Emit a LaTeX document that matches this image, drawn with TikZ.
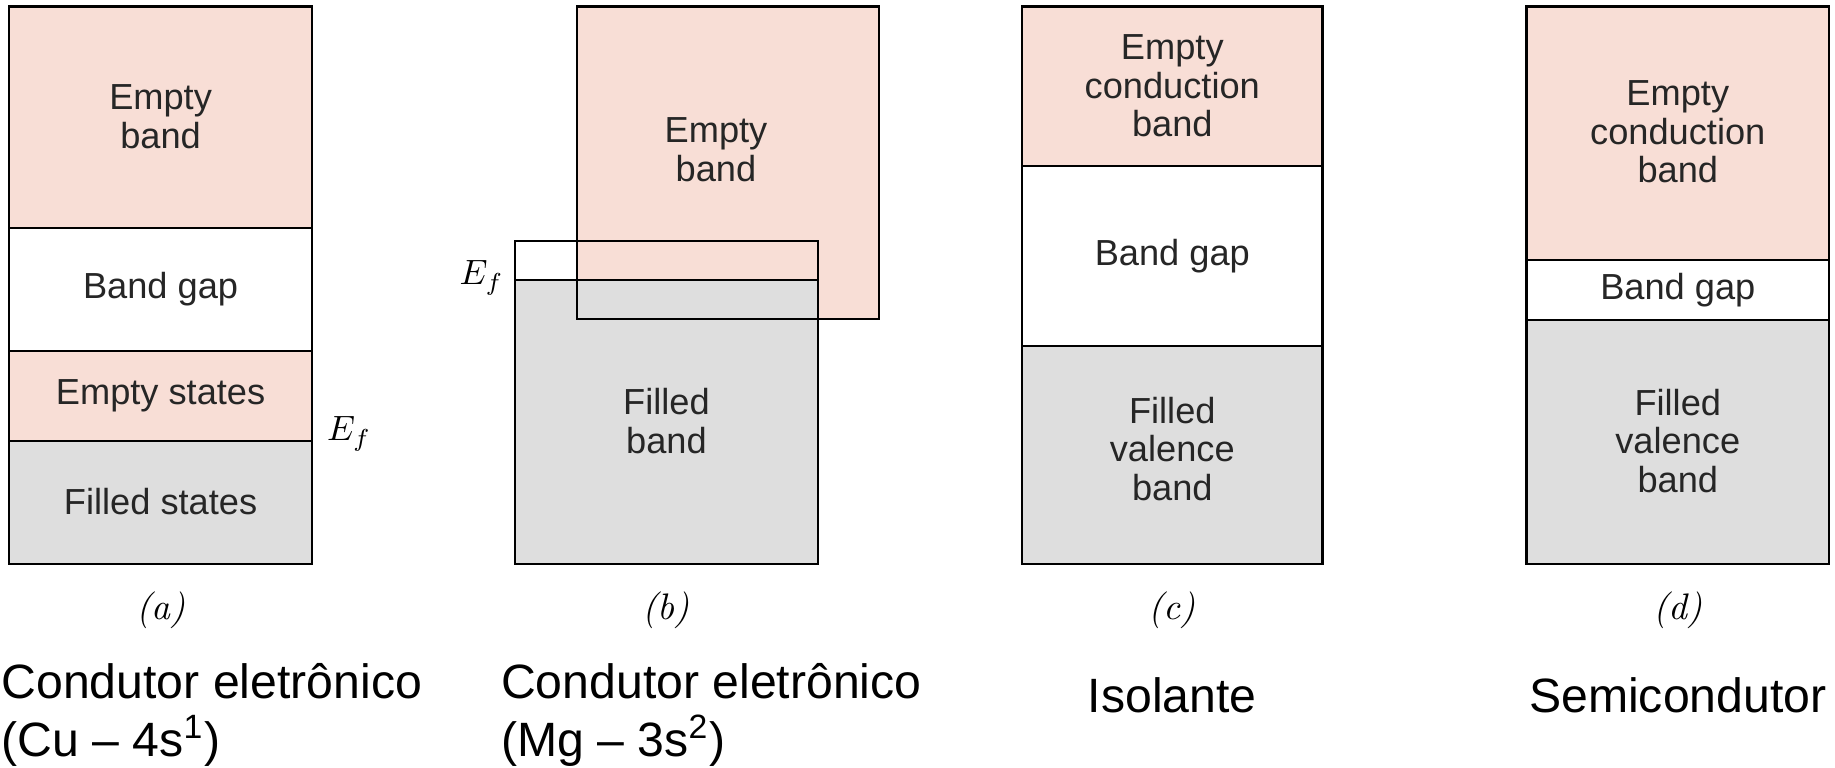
\documentclass[tikz,border=0pt]{standalone}
\usepackage{fontspec}
\newfontfamily\bandsans{Liberation Sans}
\definecolor{emptycol}{RGB}{248,222,214}
\definecolor{filledcol}{RGB}{222,222,222}

\begin{document}
\begin{tikzpicture}[x=0.01cm, y=-0.01cm, line width=0.65pt,
    every node/.style={font=\bandsans\fontsize{10.3}{11}\selectfont, align=center, text=black!85},
    emptyband/.style={fill=emptycol, draw},
    filledband/.style={fill=filledcol, draw},
    gapband/.style={fill=white, draw},
    fermi/.style={font=\fontsize{10.4}{12}\selectfont, inner sep=0pt, text=black},
    panel/.style={font=\fontsize{10.5}{12}\selectfont\itshape, text=black},
    caption/.style={font=\bandsans\fontsize{13.7}{16.5}\selectfont, text=black, align=left, inner sep=0pt}]
\useasboundingbox (0,0) rectangle (1835,768);

% (a) conductor with half filled band
\draw[emptyband] (9.3,6.5) rectangle (311.7,228.3);
\draw[gapband] (9.3,228.3) rectangle (311.7,351);
\draw[emptyband] (9.3,351) rectangle (311.7,440.7);
\draw[filledband] (9.3,440.7) rectangle (311.7,564);
\node (a1) at (160.6,117) {Empty\\band};
\node (a2) at (160.6,289.6) {Band gap};
\node (a3) at (160.6,396) {Empty states};
\node (a4) at (160.6,502) {Filled states};
\node[fermi, anchor=base west] (efa) at (326,441) {$E_f$};

% (b) overlapping bands
\fill[emptycol] (576.7,6.5) rectangle (879,319.3);
\fill[filledcol] (515,280) rectangle (817.7,564);
\draw (515,240.7) rectangle (817.7,564);
\draw (515,280) -- (817.7,280);
\draw (576.7,6.5) rectangle (879,319.3);
\node (b1) at (716,150) {Empty\\band};
\node (b2) at (666.4,421) {Filled\\band};
\node[fermi, anchor=base east] (efb) at (505,285) {$E_f$};

% (c) insulator
\draw[emptyband] (1022,6.5) rectangle (1322.6,165.7);
\draw[gapband] (1022,165.7) rectangle (1322.6,345.7);
\draw[filledband] (1022,345.7) rectangle (1322.6,564);
\node (c1) at (1172.3,86) {Empty\\conduction\\band};
\node (c2) at (1172.3,256) {Band gap};
\node (c3) at (1172.3,449) {Filled\\valence\\band};

% (d) semiconductor
\draw[emptyband] (1526.5,6.5) rectangle (1829,260);
\draw[gapband] (1526.5,260) rectangle (1829,320);
\draw[filledband] (1526.5,320) rectangle (1829,564);
\node (d1) at (1677.8,132) {Empty\\conduction\\band};
\node (d2) at (1677.8,290) {Band gap};
\node (d3) at (1677.8,441) {Filled\\valence\\band};

% panel letters
\node[panel] (pa) at (160.6,610) {(a)};
\node[panel] (pb) at (666.4,610) {(b)};
\node[panel] (pc) at (1172.3,610) {(c)};
\node[panel] (pd) at (1677.8,610) {(d)};

% captions
\node[caption, anchor=base west] (capa) at (0.5,757) {Condutor eletrônico\\(Cu – 4s\textsuperscript{1})};
\node[caption, anchor=base west] (capb) at (500,757) {Condutor eletrônico\\(Mg – 3s\textsuperscript{2})};
\node[caption, anchor=base] (capc) at (1172.3,713) {Isolante};
\node[caption, anchor=base] (capd) at (1677.8,713) {Semicondutor};
\end{tikzpicture}
\end{document}
